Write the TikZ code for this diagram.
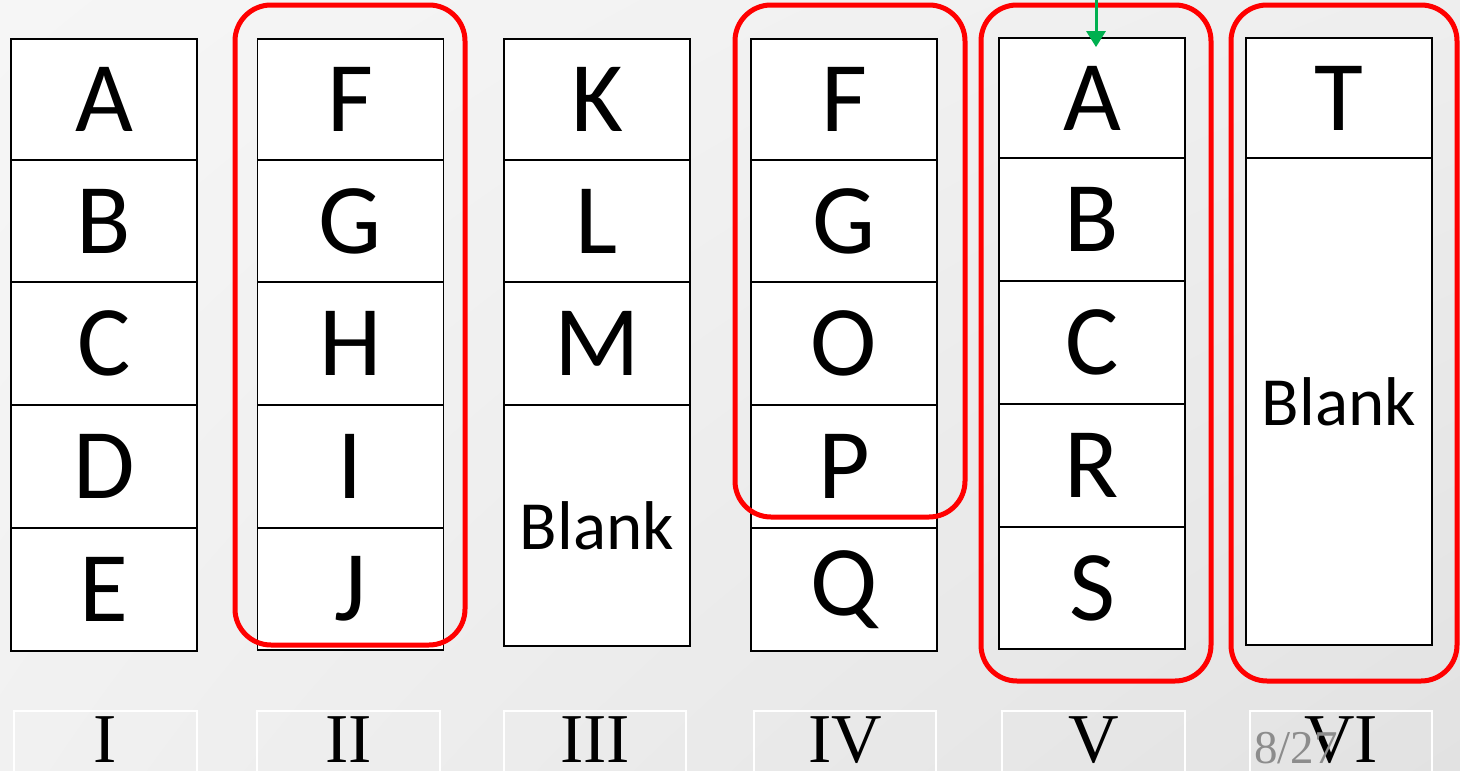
\documentclass[tikz,border=0pt]{standalone}
\usepackage{fontspec}
\newfontfamily\letterfont{Carlito}
\newfontfamily\romanfont{Liberation Serif}
\usetikzlibrary{arrows.meta,shadings}
\definecolor{grpred}{HTML}{FF0000}
\definecolor{arrgreen}{HTML}{00B050}
\definecolor{pagegray}{HTML}{8C8C8C}
\definecolor{bgul}{RGB}{246,246,246}
\definecolor{bgur}{RGB}{238,238,238}
\definecolor{bgll}{RGB}{241,241,241}
\definecolor{bglr}{RGB}{226,226,226}
\begin{document}
\begin{tikzpicture}[x=1pt,y=-1pt,
  cell/.style={draw=black, line width=1.8pt, fill=white, minimum width=186pt, inner sep=0pt,
    font=\letterfont\fontsize{100}{100}\selectfont},
  blankcell/.style={cell, font=\letterfont\fontsize{69}{69}\selectfont},
  groupbox/.style={draw=grpred, line width=5pt, rounded corners=36pt},
  labelframe/.style={draw=white, line width=1.2pt},
  numlabel/.style={inner sep=0pt, font=\romanfont\fontsize{70}{70}\selectfont},
  pagenum/.style={inner sep=0pt, text=pagegray, font=\romanfont\fontsize{47}{47}\selectfont},
  pointer/.style={draw=arrgreen, line width=3pt, -{Triangle[length=16pt,width=19pt]}}
]
\useasboundingbox (0,0) rectangle (1460,771);
\shade[upper left=bgul, upper right=bgur, lower left=bgll, lower right=bglr]
  (0,0) rectangle (1460,771);

% Column I
\node[cell, minimum height=121pt] (iA) at (104,99.5) {A};
\node[cell, minimum height=122pt] (iB) at (104,221) {B};
\node[cell, minimum height=123pt] (iC) at (104,343.5) {C};
\node[cell, minimum height=123pt] (iD) at (104,466.5) {D};
\node[cell, minimum height=123pt] (iE) at (104,589.5) {E};

% Column II
\node[cell, minimum height=121pt] (iiF) at (350.5,99.5) {F};
\node[cell, minimum height=122pt] (iiG) at (350.5,221) {G};
\node[cell, minimum height=123pt] (iiH) at (350.5,343.5) {H};
\node[cell, minimum height=123pt] (iiI) at (350.5,466.5) {I};
\node[cell, minimum height=122pt] (iiJ) at (350.5,589) {J};

% Column III
\node[cell, minimum height=121pt] (iiiK) at (597,99.5) {K};
\node[cell, minimum height=122pt] (iiiL) at (597,221) {L};
\node[cell, minimum height=123pt] (iiiM) at (597,343.5) {M};
\node[blankcell, minimum height=241pt] (iiiBlank) at (597,525.5) {Blank};

% Column IV
\node[cell, minimum height=121pt] (ivF) at (844,99.5) {F};
\node[cell, minimum height=122pt] (ivG) at (844,221) {G};
\node[cell, minimum height=123pt] (ivO) at (844,343.5) {O};
\node[cell, minimum height=123pt] (ivP) at (844,466.5) {P};
\node[cell, minimum height=123pt] (ivQ) at (844,589.5) {Q};

% Column V
\node[cell, minimum height=120pt] (vA) at (1092,98) {A};
\node[cell, minimum height=123pt] (vB) at (1092,219.5) {B};
\node[cell, minimum height=123pt] (vC) at (1092,342.5) {C};
\node[cell, minimum height=123pt] (vR) at (1092,465.5) {R};
\node[cell, minimum height=122pt] (vS) at (1092,588) {S};

% Column VI
\node[cell, minimum height=120pt] (viT) at (1339,98) {T};
\node[blankcell, minimum height=487pt] (viBlank) at (1339,401.5) {Blank};

% Red group outlines
\draw[groupbox] (235,5) rectangle (465,645);
\draw[groupbox] (735,5) rectangle (965,517);
\draw[groupbox] (981,5) rectangle (1211,681);
\draw[groupbox] (1231,5) rectangle (1457,681);

% Green pointer
\coordinate (ptrstart) at (1096,-2);
\draw[pointer] (ptrstart) -- ([xshift=4pt,yshift=-10pt]vA.north);

% Column labels
\draw[labelframe] (14,711) rectangle (197,790);
\draw[labelframe] (257,711) rectangle (440,790);
\draw[labelframe] (504,711) rectangle (686,790);
\draw[labelframe] (754,711) rectangle (936,790);
\draw[labelframe] (1002,711) rectangle (1185,790);
\draw[labelframe] (1250,711) rectangle (1432,790);
\node[numlabel] (lI) at (105.5,740) {I};
\node[numlabel] (lII) at (348.5,740) {II};
\node[numlabel] (lIII) at (595,740) {III};
\node[numlabel] (lIV) at (845,740) {IV};
\node[numlabel] (lV) at (1093.5,740) {V};
\node[numlabel] (lVI) at (1341,740) {VI};

% Page number
\node[pagenum, anchor=base west] (page) at (1254,763) {8/27};
\end{tikzpicture}
\end{document}
